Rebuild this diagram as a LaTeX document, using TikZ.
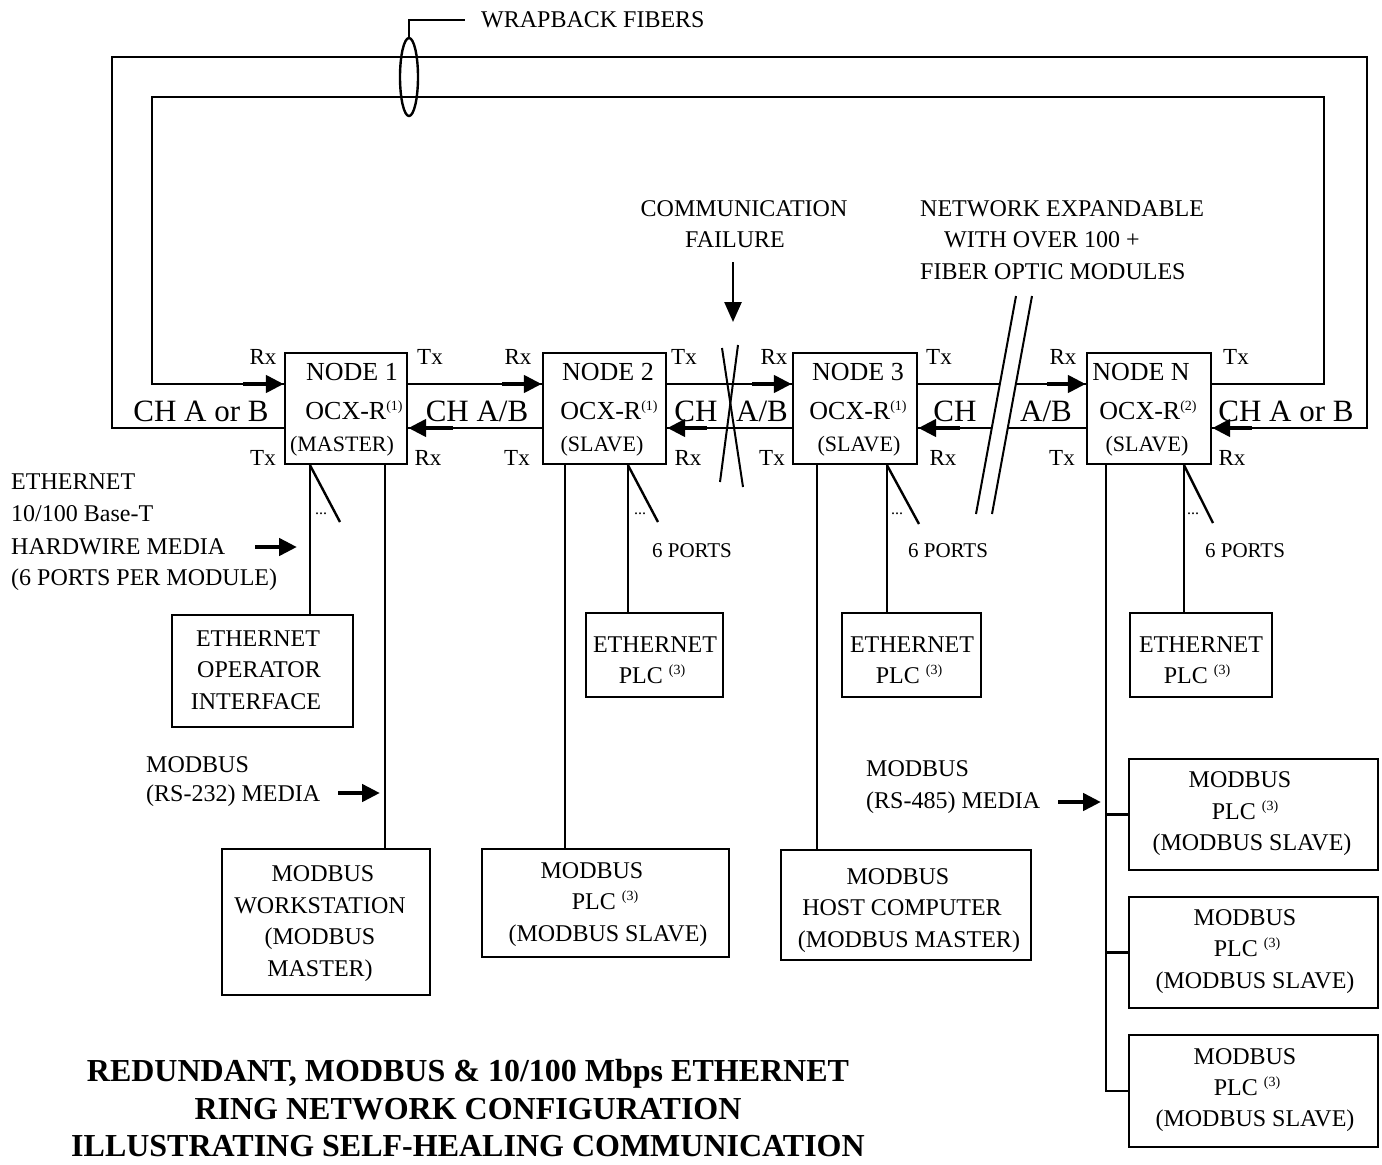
\documentclass[tikz,border=0pt]{standalone}
\usepackage{fontspec}
\setmainfont{Liberation Serif}
\usetikzlibrary{arrows.meta}
\newcommand{\mysup}[1]{\raisebox{9pt}{\fontsize{14}{14}\selectfont(#1)}}
\begin{document}
\begin{tikzpicture}[x=1pt,y=-1pt,line width=2.4pt,
  s21/.style={inner sep=0pt,font=\fontsize{21}{21}\selectfont,text height=13.9pt,text depth=0pt},
  s22/.style={inner sep=0pt,font=\fontsize{22}{22}\selectfont,text height=14.6pt,text depth=0pt},
  s23/.style={inner sep=0pt,font=\fontsize{23}{23}\selectfont,text height=15.2pt,text depth=0pt},
  s24/.style={inner sep=0pt,font=\fontsize{24}{24}\selectfont,text height=15.9pt,text depth=0pt},
  s26/.style={inner sep=0pt,font=\fontsize{26}{26}\selectfont,text height=17.2pt,text depth=0pt},
  s31/.style={inner sep=0pt,font=\fontsize{31}{31}\selectfont,text height=20.5pt,text depth=0pt},
  sb/.style={inner sep=0pt,font=\bfseries\fontsize{32}{32}\selectfont,text height=21.2pt,text depth=0pt},
  dots/.style={inner sep=0pt,font=\fontsize{16}{16}\selectfont,anchor=base},
  bx/.style={draw,line width=2.4pt,inner sep=0pt,minimum width=#1},
  arr/.style={line width=4.5pt,-{Triangle[length=18pt,width=17pt]}},
  farr/.style={line width=2.6pt,-{Triangle[length=20pt,width=17pt]}}]
\useasboundingbox (0,0) rectangle (1382,1165);
\coordinate (hi) at (0,384);
\coordinate (lo) at (0,428);

% ---------- ring nodes
\node[bx=122pt,minimum height=111pt] (n1) at (346,408.5) {};
\node[bx=123pt,minimum height=111pt] (n2) at (604.5,408.5) {};
\node[bx=124pt,minimum height=111pt] (n3) at (855,408.5) {};
\node[bx=124pt,minimum height=111pt] (nN) at (1149,408.5) {};

\node[s26] (n1a) at (352,372) {NODE 1};
\node[s26] (n1b) at (354,411) {OCX-R\mysup{1}};
\node[s22] (n1c) at (342,444) {(MASTER)};
\node[s26] (n2a) at (608,372) {NODE 2};
\node[s26] (n2b) at (609,411) {OCX-R\mysup{1}};
\node[s22] (n2c) at (602,444) {(SLAVE)};
\node[s26] (n3a) at (858,372) {NODE 3};
\node[s26] (n3b) at (858,411) {OCX-R\mysup{1}};
\node[s22] (n3c) at (859,444) {(SLAVE)};
\node[s26] (nNa) at (1141,372) {NODE N};
\node[s26] (nNb) at (1148,411) {OCX-R\mysup{2}};
\node[s22] (nNc) at (1147,444) {(SLAVE)};

% ---------- Rx / Tx labels
\node[s23] (r1) at (263,357) {Rx};
\node[s23] (t1) at (430,357) {Tx};
\node[s23] (t1b) at (263,458) {Tx};
\node[s23] (r1b) at (428,458) {Rx};
\node[s23] (r2) at (518,357) {Rx};
\node[s23] (t2) at (684,357) {Tx};
\node[s23] (t2b) at (517,458) {Tx};
\node[s23] (r2b) at (688,458) {Rx};
\node[s23] (r3) at (774,357) {Rx};
\node[s23] (t3) at (939,357) {Tx};
\node[s23] (t3b) at (772,458) {Tx};
\node[s23] (r3b) at (943,458) {Rx};
\node[s23] (rN) at (1063,357) {Rx};
\node[s23] (tN) at (1236,357) {Tx};
\node[s23] (tNb) at (1062,458) {Tx};
\node[s23] (rNb) at (1232,458) {Rx};

% ---------- channel labels
\node[s31] (c0) at (201,411) {CH A or B};
\node[s31] (c1) at (477,411) {CH A/B};
\node[s31] (c2a) at (696,411) {CH};
\node[s31] (c2b) at (762,411) {A/B};
\node[s31] (c3a) at (955,411) {CH};
\node[s31] (c3b) at (1046,411) {A/B};
\node[s31] (c4) at (1286,411) {CH A or B};

% ---------- wrapback fibers
\draw (n1.west|-lo) -- (112,428) -- (112,57) -- (1367,57) -- (1367,428) -- (nN.east|-lo);
\draw (nN.east|-hi) -- (1324,384) -- (1324,97) -- (152,97) -- (152,384) -- (n1.west|-hi);
\draw (409,77) ellipse [x radius=9pt, y radius=39pt];
\node[s24,anchor=west] (wlab) at (480,20) {WRAPBACK FIBERS};
\coordinate (etop) at (409,38);
\draw (etop) -- (409,20) -- ([xshift=-15pt]wlab.west);

% ---------- ring links
\draw (n1.east|-hi) -- (n2.west|-hi);
\draw (n2.west|-lo) -- (n1.east|-lo);
\draw (n2.east|-hi) -- (n3.west|-hi);
\draw (n3.west|-lo) -- (n2.east|-lo);
\coordinate (g1) at (1000,384); \coordinate (g2) at (1016,384);
\coordinate (g3) at (992,428);  \coordinate (g4) at (1008,428);
\draw (n3.east|-hi) -- (g1);
\draw (g2) -- (nN.west|-hi);
\draw (n3.east|-lo) -- (g3);
\draw (g4) -- (nN.west|-lo);
% break marks
\draw[line width=2pt] (1016,296) -- (976,514);
\draw[line width=2pt] (1032,296) -- (992,514);
% failure cross
\draw[line width=2pt] (722,348) -- (743,487);
\draw[line width=2pt] (738,345) -- (720,482);

% arrow heads on ring
\draw[arr] (243,384) -- (n1.west|-hi);
\draw[arr] (502,384) -- (n2.west|-hi);
\draw[arr] (453,428) -- (n1.east|-lo);
\draw[arr] (752,384) -- (n3.west|-hi);
\draw[arr] (707,428) -- (n2.east|-lo);
\draw[arr] (1047,384) -- (nN.west|-hi);
\draw[arr] (960,428) -- (n3.east|-lo);
\draw[arr] (1252,428) -- (nN.east|-lo);

% ---------- upper notes
\node[s24] (cf1) at (744,209) {COMMUNICATION};
\node[s24] (cf2) at (735,240) {FAILURE};
\coordinate (cfs) at (733,262);
\draw[farr] (cfs) -- (733,322);
\node[s24,anchor=west] (ne1) at (919,209) {NETWORK EXPANDABLE};
\node[s24,anchor=west] (ne2) at (943,240) {WITH OVER 100 +};
\node[s24,anchor=west] (ne3) at (919,272) {FIBER OPTIC MODULES};

% ---------- left notes
\node[s24,anchor=west] (l1) at (10,482) {ETHERNET};
\node[s24,anchor=west] (l2) at (10,514) {10/100 Base-T};
\node[s24,anchor=west] (l3) at (10,547) {HARDWIRE MEDIA};
\node[s24,anchor=west] (l4) at (10,578) {(6 PORTS PER MODULE)};
\draw[arr] (255,547) -- (297,547);
\node[s24,anchor=west] (m1) at (145,765) {MODBUS};
\node[s24,anchor=west] (m2) at (145,794) {(RS-232) MEDIA};
\draw[arr] (338,793) -- (380,793);
\node[s24,anchor=west] (m3) at (865,769) {MODBUS};
\node[s24,anchor=west] (m4) at (865,801) {(RS-485) MEDIA};
\draw[arr] (1058,802) -- (1101,802);

% ---------- device boxes
\node[bx=181pt,minimum height=112pt] (eoi) at (262.5,671) {};
\node[s24] at (258,639) {ETHERNET};
\node[s24] at (259,670) {OPERATOR};
\node[s24] at (256,702) {INTERFACE};

\node[bx=137pt,minimum height=84pt] (e2) at (654.5,655) {};
\node[s24] at (655,645) {ETHERNET};
\node[s24] at (652,676) {PLC \mysup{3}};
\node[bx=139pt,minimum height=84pt] (e3) at (911.5,655) {};
\node[s24] at (912,645) {ETHERNET};
\node[s24] at (909,676) {PLC \mysup{3}};
\node[bx=142pt,minimum height=84pt] (eN) at (1201,655) {};
\node[s24] at (1201,645) {ETHERNET};
\node[s24] at (1197,676) {PLC \mysup{3}};

\node[bx=208pt,minimum height=146pt] (mws) at (326,922) {};
\node[s24] at (323,874) {MODBUS};
\node[s24] at (320,906) {WORKSTATION};
\node[s24] at (320,937) {(MODBUS};
\node[s24] at (320,969) {MASTER)};

\node[bx=247pt,minimum height=108pt] (mp2) at (605.5,903) {};
\node[s24] at (592,871) {MODBUS};
\node[s24] at (605,902) {PLC \mysup{3}};
\node[s24] at (608,934) {(MODBUS SLAVE)};

\node[bx=250pt,minimum height=110pt] (mhc) at (906,905) {};
\node[s24] at (898,877) {MODBUS};
\node[s24] at (902,908) {HOST COMPUTER};
\node[s24] at (909,940) {(MODBUS MASTER)};

\node[bx=249pt,minimum height=111pt] (q1) at (1253.5,814.5) {};
\node[s24] at (1240,780) {MODBUS};
\node[s24] at (1245,812) {PLC \mysup{3}};
\node[s24] at (1252,843) {(MODBUS SLAVE)};
\node[bx=249pt,minimum height=111pt] (q2) at (1253.5,952.5) {};
\node[s24] at (1245,918) {MODBUS};
\node[s24] at (1247,949) {PLC \mysup{3}};
\node[s24] at (1255,981) {(MODBUS SLAVE)};
\node[bx=249pt,minimum height=112pt] (q3) at (1253.5,1091) {};
\node[s24] at (1245,1057) {MODBUS};
\node[s24] at (1247,1088) {PLC \mysup{3}};
\node[s24] at (1255,1119) {(MODBUS SLAVE)};

% ---------- drops from nodes
\coordinate (x1a) at (310,0); \coordinate (x1b) at (385,0);
\coordinate (x2a) at (565,0); \coordinate (x2b) at (628,0);
\coordinate (x3a) at (817,0); \coordinate (x3b) at (887,0);
\coordinate (xNa) at (1106,0); \coordinate (xNb) at (1184,0);
\draw (n1.south-|x1a) -- (eoi.north-|x1a);
\draw (n1.south-|x1a) -- (340,522);
\node[dots] (d1) at (321,514) {...};
\draw (n1.south-|x1b) -- (mws.north-|x1b);
\draw (n2.south-|x2b) -- (e2.north-|x2b);
\draw (n2.south-|x2b) -- (658,522);
\node[dots] (d2) at (640,514) {...};
\draw (n2.south-|x2a) -- (mp2.north-|x2a);
\draw (n3.south-|x3b) -- (e3.north-|x3b);
\draw (n3.south-|x3b) -- (919,524);
\node[dots] (d3) at (897,514) {...};
\draw (n3.south-|x3a) -- (mhc.north-|x3a);
\draw (nN.south-|xNb) -- (eN.north-|xNb);
\draw (nN.south-|xNb) -- (1213,523);
\node[dots] (d4) at (1193,514) {...};
\draw (nN.south-|xNa) -- (q3.west-|xNa) -- (q3.west);
\draw (q1.west-|xNa) -- (q1.west);
\draw (q2.west-|xNa) -- (q2.west);
\node[s21] (p2) at (692,551) {6 PORTS};
\node[s21] (p3) at (948,551) {6 PORTS};
\node[s21] (pN) at (1245,551) {6 PORTS};

% ---------- title
\node[sb] (ti1) at (468,1071) {REDUNDANT, MODBUS \& 10/100 Mbps ETHERNET};
\node[sb] (ti2) at (468,1109) {RING NETWORK CONFIGURATION};
\node[sb] (ti3) at (468,1146) {ILLUSTRATING SELF-HEALING COMMUNICATION};
\end{tikzpicture}
\end{document}
